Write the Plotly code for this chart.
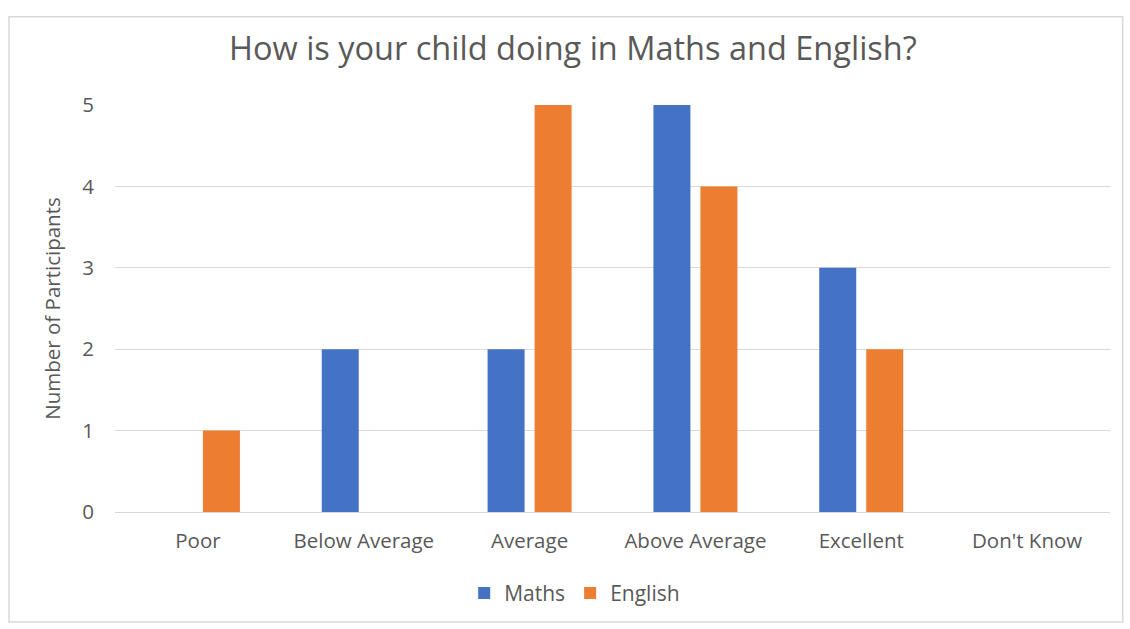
import plotly.graph_objects as go

categories = ["Poor", "Below Average", "Average", "Above Average", "Excellent", "Don't Know"]
maths = [0, 2, 2, 5, 3, 0]
english = [1, 0, 5, 4, 2, 0]

FONT = "Open Sans"
TXT = "#595959"

fig = go.Figure()
fig.add_trace(go.Bar(name="Maths", x=categories, y=maths, marker_color="#4472C4", marker_line_width=0))
fig.add_trace(go.Bar(name="English", x=categories, y=english, marker_color="#ED7D31", marker_line_width=0))

fig.update_layout(
    width=1130, height=629,
    paper_bgcolor="white", plot_bgcolor="white",
    margin=dict(l=115, r=20, t=105, b=117),
    barmode="group", bargap=0.433, bargroupgap=0.213,
    font=dict(family=FONT, color=TXT, size=20),
    title=dict(text="How is your child doing in Maths and English?",
               x=0.507, xanchor="center", y=0.922, yanchor="middle",
               font=dict(family=FONT, size=32.5, color=TXT)),
    legend=dict(orientation="h", x=0.462, xanchor="center", y=-0.2, yanchor="middle",
                font=dict(size=21, color=TXT), itemsizing="constant", traceorder="normal"),
    xaxis=dict(showgrid=False, showline=False, ticks="", ticklabelstandoff=14,
               tickfont=dict(size=20.5, color=TXT)),
    yaxis=dict(range=[0, 5], dtick=1, showgrid=True, gridcolor="#D9D9D9", gridwidth=1,
               zeroline=True, zerolinecolor="#D9D9D9", zerolinewidth=1,
               ticks="", ticklen=0, ticklabelstandoff=20, tickfont=dict(size=20.5, color=TXT),
               title=dict(text="Number of Participants", font=dict(size=20.5, color=TXT), standoff=16)),
    shapes=[dict(type="rect", xref="paper", yref="paper", x0=-0.1065, x1=1.0128, y0=-0.27, y1=1.217,
                 line=dict(color="#D9D9D9", width=1.5), layer="below")],
)

fig.write_html("out.html")
